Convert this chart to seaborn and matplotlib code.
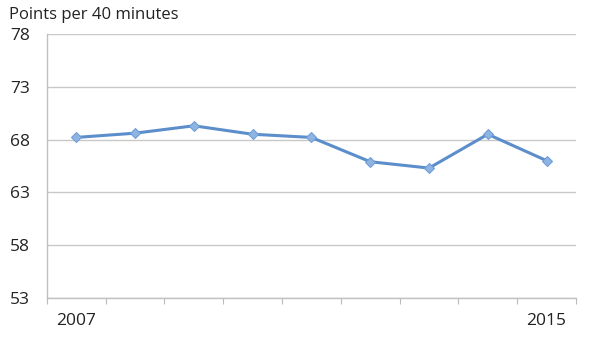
import matplotlib
matplotlib.use("Agg")
import matplotlib.pyplot as plt
import seaborn as sns
import pandas as pd
import numpy as np

years = [2007, 2008, 2009, 2010, 2011, 2012, 2013, 2014, 2015]
points = [68.2, 68.6, 69.3, 68.5, 68.2, 65.9, 65.3, 68.5, 66.0]
y_ticks = [53, 58, 63, 68, 73, 78]
x_labels = ["2007", "", "", "", "", "", "", "", "2015"]

sns.set_theme(style="white")
plt.rcParams['font.family'] = ['Open Sans', 'DejaVu Sans']

df = pd.DataFrame({"idx": range(len(years)), "points": points})

fig = plt.figure(figsize=(6.0, 3.49), dpi=100)
ax = fig.add_axes([0.078, 0.146, 0.882, 0.757])

sns.lineplot(data=df, x="idx", y="points", ax=ax, color="#5B8ECB",
             linewidth=2.2, marker="D", markersize=5,
             markeredgecolor="#6E9DD6", markerfacecolor="#8DB4E2")

ax.set_ylim(53, 78)
ax.set_xlim(-0.5, len(years) - 0.5)
ax.set_yticks(y_ticks)
ax.set_yticklabels([str(v) for v in y_ticks], fontsize=12.5, color="#222222")
ax.set_xticks(range(len(years)))
ax.set_xticklabels(x_labels, fontsize=12.5, color="#222222")
ax.set_xticks(np.arange(-0.5, len(years)), minor=True)
ax.tick_params(axis="x", which="major", length=0, pad=11)
ax.tick_params(axis="x", which="minor", length=4, width=0.8, color="#BBBBBB", direction="out", bottom=True)
ax.tick_params(axis="y", length=0, pad=12)
ax.yaxis.grid(True, color="#C8C8C8", linewidth=1)
ax.xaxis.grid(False)
ax.set_axisbelow(True)
for s in ["top", "right"]:
    ax.spines[s].set_visible(False)
for s in ["left", "bottom"]:
    ax.spines[s].set_color("#C0C0C0")
    ax.spines[s].set_linewidth(1)
ax.set_xlabel("")
ax.set_ylabel("")

fig.text(9 / 600, 1 - 15 / 349, "Points per 40 minutes", fontsize=12,
         color="#222222", ha="left", va="center")

fig.savefig("out.png", dpi=100, facecolor="white")
